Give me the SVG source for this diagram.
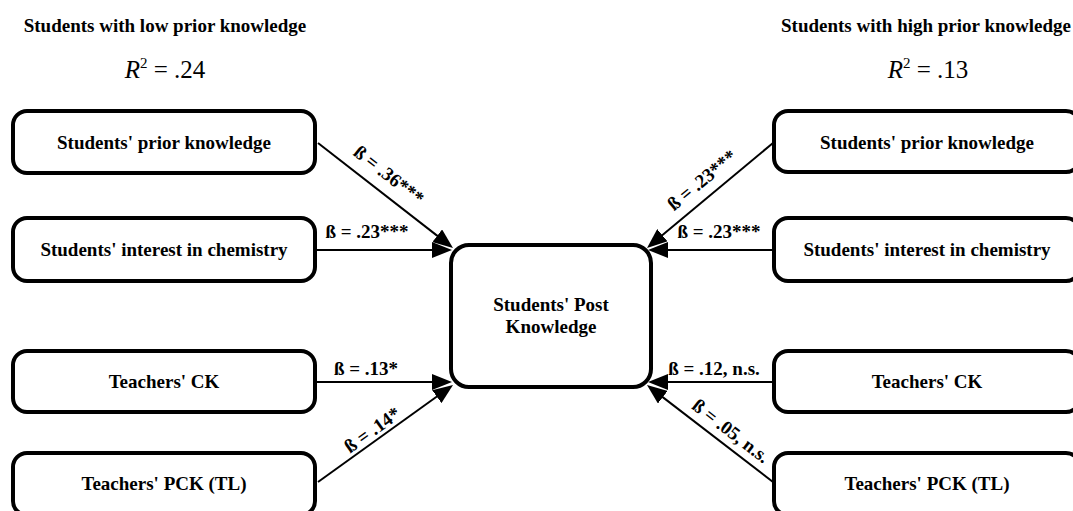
<svg xmlns="http://www.w3.org/2000/svg" width="1073" height="511" viewBox="0 0 1073 511">
<style>
.box{fill:#fff;stroke:#000;stroke-width:4}
.nt{font-family:"Liberation Serif",serif;font-weight:bold;font-size:19px;text-anchor:middle;fill:#000}
.title{font-family:"Liberation Serif",serif;font-weight:bold;font-size:19px;text-anchor:middle;fill:#000}
.r2{font-family:"Liberation Serif",serif;font-size:25px;text-anchor:middle;fill:#000}
.lbl{font-family:"Liberation Serif",serif;font-weight:bold;font-size:19px;text-anchor:middle;fill:#000}
.edge{stroke:#000;stroke-width:2;fill:none;marker-end:url(#ah)}
</style>
<defs>
<marker id="ah" viewBox="0 0 20 16" refX="10" refY="8" markerWidth="20" markerHeight="16" markerUnits="userSpaceOnUse" orient="auto">
<path d="M0,0 L20,8 L0,16 Z" fill="#000"/>
</marker>
</defs>
<rect width="1073" height="511" fill="#fff"/>
<g id="titles">
<text class="title" x="165" y="32">Students with low prior knowledge</text>
<text class="r2" x="165" y="78"><tspan font-style="italic">R</tspan><tspan font-size="15" dy="-10">2</tspan><tspan dy="10"> = .24</tspan></text>
<text class="title" x="926" y="32">Students with high prior knowledge</text>
<text class="r2" x="928" y="78"><tspan font-style="italic">R</tspan><tspan font-size="15" dy="-10">2</tspan><tspan dy="10"> = .13</tspan></text>
</g>
<g id="connectors">
<line class="edge" x1="318" y1="143" x2="445.1" y2="241.9"/>
<line class="edge" x1="316" y1="250" x2="442" y2="250"/>
<line class="edge" x1="316" y1="382" x2="442" y2="382"/>
<line class="edge" x1="318" y1="482" x2="444.9" y2="390.8"/>
<line class="edge" x1="773" y1="143" x2="654.7" y2="241.6"/>
<line class="edge" x1="773" y1="250" x2="658" y2="250"/>
<line class="edge" x1="773" y1="382" x2="658" y2="382"/>
<line class="edge" x1="773" y1="482" x2="654.9" y2="391.1"/>
<text class="lbl" transform="translate(385,180) rotate(37.9)">ß = .36***</text>
<text class="lbl" x="367" y="238">ß = .23***</text>
<text class="lbl" x="366" y="375">ß = .13*</text>
<text class="lbl" transform="translate(376,435) rotate(-35.7)">ß = .14*</text>
<text class="lbl" transform="translate(706,185) rotate(-39.8)">ß = .23***</text>
<text class="lbl" x="719" y="238">ß = .23***</text>
<text class="lbl" x="714" y="375">ß = .12, n.s.</text>
<text class="lbl" transform="translate(727,436) rotate(37.6)">ß = .05, n.s.</text>
</g>
<g id="n_post">
<rect class="box" x="451" y="245" width="200" height="142" rx="18"/>
<text class="nt" x="551" y="311">Students' Post</text>
<text class="nt" x="551" y="333">Knowledge</text>
</g>
<g id="n_l_prior">
<rect class="box" x="13" y="111" width="302" height="62" rx="14"/>
<text class="nt" x="164" y="149">Students' prior knowledge</text>
</g>
<g id="n_l_interest">
<rect class="box" x="13" y="218" width="302" height="63" rx="14"/>
<text class="nt" x="164" y="256">Students' interest in chemistry</text>
</g>
<g id="n_l_ck">
<rect class="box" x="13" y="351" width="302" height="61" rx="14"/>
<text class="nt" x="164" y="388">Teachers' CK</text>
</g>
<g id="n_l_pck">
<rect class="box" x="13" y="453" width="302" height="62" rx="14"/>
<text class="nt" x="164" y="490">Teachers' PCK (TL)</text>
</g>
<g id="n_r_prior">
<rect class="box" x="774" y="111" width="306" height="61" rx="14"/>
<text class="nt" x="927" y="149">Students' prior knowledge</text>
</g>
<g id="n_r_interest">
<rect class="box" x="774" y="218" width="306" height="63" rx="14"/>
<text class="nt" x="927" y="256">Students' interest in chemistry</text>
</g>
<g id="n_r_ck">
<rect class="box" x="774" y="351" width="306" height="61" rx="14"/>
<text class="nt" x="927" y="388">Teachers' CK</text>
</g>
<g id="n_r_pck">
<rect class="box" x="774" y="453" width="306" height="62" rx="14"/>
<text class="nt" x="927" y="490">Teachers' PCK (TL)</text>
</g>
</svg>
